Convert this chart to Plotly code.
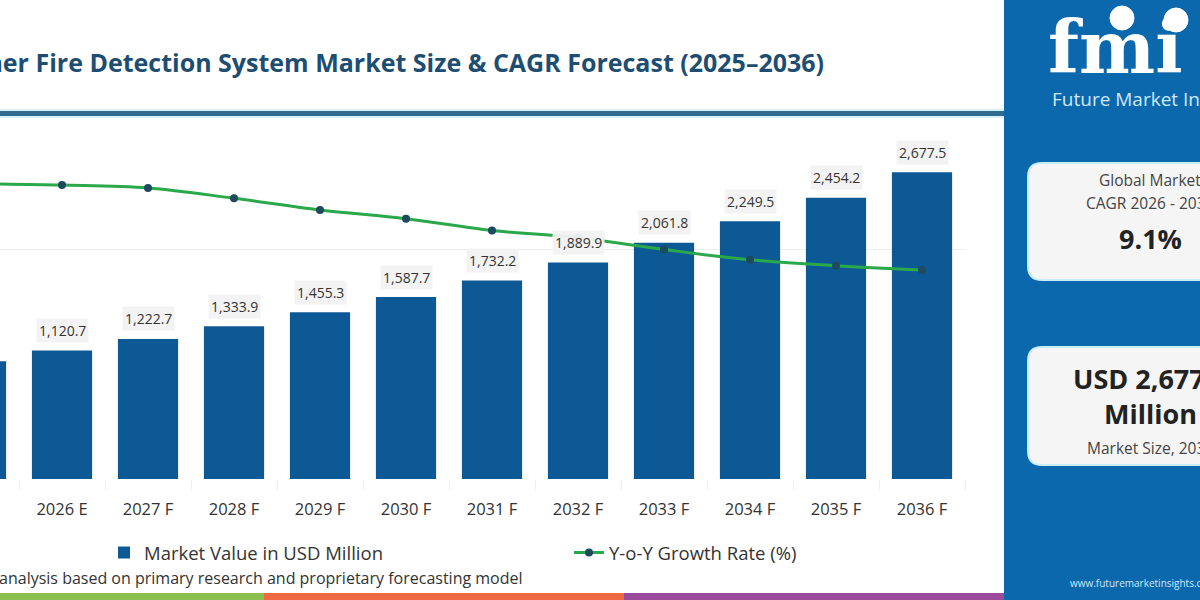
import plotly.graph_objects as go

# ---------------- data ----------------
years = ["2025 A", "2026 E", "2027 F", "2028 F", "2029 F", "2030 F",
         "2031 F", "2032 F", "2033 F", "2034 F", "2035 F", "2036 F"]
market_value = [1027.2, 1120.7, 1222.7, 1333.9, 1455.3, 1587.7,
                1732.2, 1889.9, 2061.8, 2249.5, 2454.2, 2677.5]
yoy_growth = [9.45, 9.44, 9.42, 9.35, 9.27, 9.21,
              9.13, 9.08, 9.00, 8.93, 8.89, 8.86]
cagr_text = "9.1%"
final_value_text = "USD 2,677.5"

title = "Container Fire Detection System Market Size & CAGR Forecast (2025\u20132036)"
source = "Source: FMI analysis based on primary research and proprietary forecasting model"

W, H = 1200, 600
def px(x):
    return x / W
def py(y):
    return 1 - y / H

FONT = "Open Sans"
BAR = "#0d5996"
LINE = "#2aa84a"
NAVY = "#1d4e72"
PANEL = "#0b68ad"

fig = go.Figure()

fig.add_trace(go.Bar(
    x=years, y=market_value, name="Market Value in USD Million",
    marker=dict(color=BAR, line=dict(width=0)), width=0.7,
    hoverinfo="x+y",
))
fig.add_trace(go.Scatter(
    x=years, y=yoy_growth, name="Y-o-Y Growth Rate (%)", yaxis="y2",
    mode="lines+markers", line=dict(color=LINE, width=3, shape="spline"),
    marker=dict(color="#1d4a5f", size=8),
))

annotations = []
for yr, v in zip(years, market_value):
    annotations.append(dict(
        x=yr, y=v, xref="x", yref="y", text=f"{v:,.1f}", showarrow=False,
        yshift=20, font=dict(family=FONT, size=14, color="#333333"),
        bgcolor="rgba(242,242,242,0.95)", borderpad=2,
    ))

# Title
annotations.append(dict(
    x=px(826), y=py(62), xref="paper", yref="paper", xanchor="right", yanchor="middle",
    text=f"<b>{title}</b>", showarrow=False,
    font=dict(family=FONT, size=25, color=NAVY)))
# Source
annotations.append(dict(
    x=px(525), y=py(578), xref="paper", yref="paper", xanchor="right", yanchor="middle",
    text=source, showarrow=False,
    font=dict(family=FONT, size=16, color="#333333")))

# Right panel texts
cx = px(1150)
panel_texts = [
    ("Global Market", 180, 15.5, False, "#444444"),
    ("CAGR 2026 - 2036", 203, 15.5, False, "#444444"),
    (cagr_text, 238, 27, True, "#222222"),
    (final_value_text, 378, 27, True, "#222222"),
    ("Million", 414, 27, True, "#222222"),
    ("Market Size, 2036", 448, 15.5, False, "#444444"),
]
for t, y, s, b, c in panel_texts:
    annotations.append(dict(
        x=cx, y=py(y), xref="paper", yref="paper", xanchor="center", yanchor="middle",
        text=f"<b>{t}</b>" if b else t, showarrow=False,
        font=dict(family=FONT, size=s, color=c)))

# logo
annotations.append(dict(
    x=px(1046), y=py(47), xref="paper", yref="paper", xanchor="left", yanchor="middle",
    text="<b>fmi</b>", showarrow=False,
    font=dict(family="DejaVu Serif", size=72, color="white")))
annotations.append(dict(
    x=px(1050), y=py(99), xref="paper", yref="paper", xanchor="left", yanchor="middle",
    text="Future Market Insights", showarrow=False,
    font=dict(family=FONT, size=19, color="#cfe8fb")))
annotations.append(dict(
    x=px(1068), y=py(583), xref="paper", yref="paper", xanchor="left", yanchor="middle",
    text="www.futuremarketinsights.com", showarrow=False,
    font=dict(family=FONT, size=10, color="#cfe8fb")))

def rounded(x0, y0, x1, y1, r):
    X0, X1 = px(x0), px(x1)
    Y0, Y1 = py(y0), py(y1)
    rx, ry = r / W, r / H
    return (f"M{X0+rx},{Y0} L{X1-rx},{Y0} Q{X1},{Y0} {X1},{Y0-ry} "
            f"L{X1},{Y1+ry} Q{X1},{Y1} {X1-rx},{Y1} L{X0+rx},{Y1} "
            f"Q{X0},{Y1} {X0},{Y1+ry} L{X0},{Y0-ry} Q{X0},{Y0} {X0+rx},{Y0} Z")

shapes = [
    # right panel
    dict(type="rect", xref="paper", yref="paper", x0=px(1004), x1=1.0, y0=0, y1=1,
         fillcolor=PANEL, line=dict(width=0), layer="below"),
    # title rule
    dict(type="rect", xref="paper", yref="paper", x0=0, x1=px(1004), y0=py(118), y1=py(109),
         fillcolor="#d6f1fb", line=dict(width=0), layer="below"),
    dict(type="rect", xref="paper", yref="paper", x0=0, x1=px(1004), y0=py(116), y1=py(111),
         fillcolor="#2e6b8f", line=dict(width=0), layer="below"),
    # bottom stripes
    dict(type="rect", xref="paper", yref="paper", x0=0, x1=px(264), y0=0, y1=py(593),
         fillcolor="#8cc152", line=dict(width=0), layer="below"),
    dict(type="rect", xref="paper", yref="paper", x0=px(264), x1=px(624), y0=0, y1=py(593),
         fillcolor="#ef6a42", line=dict(width=0), layer="below"),
    dict(type="rect", xref="paper", yref="paper", x0=px(624), x1=px(1004), y0=0, y1=py(593),
         fillcolor="#9a4b9b", line=dict(width=0), layer="below"),
    # panel boxes
    dict(type="path", xref="paper", yref="paper", path=rounded(1028, 163, 1275, 280, 14),
         fillcolor="#f5f5f5", line=dict(color="#c9eefa", width=2), layer="below"),
    dict(type="path", xref="paper", yref="paper", path=rounded(1028, 347, 1275, 465, 14),
         fillcolor="#f5f5f5", line=dict(color="#c9eefa", width=2), layer="below"),
    # logo circles
    dict(type="circle", xref="paper", yref="paper", x0=px(1110), x1=px(1134), y0=py(30), y1=py(6),
         fillcolor="white", line=dict(color="white", width=1), layer="below"),
    dict(type="circle", xref="paper", yref="paper", x0=px(1164), x1=px(1188), y0=py(32), y1=py(8),
         fillcolor="white", line=dict(color="white", width=1), layer="below"),
]

fig.update_layout(
    width=W, height=H, margin=dict(l=0, r=0, t=0, b=0),
    paper_bgcolor="white", plot_bgcolor="rgba(0,0,0,0)",
    showlegend=True,
    legend=dict(orientation="h", x=px(104), y=py(553), xanchor="left", yanchor="middle",
                entrywidth=420, entrywidthmode="pixels",
                font=dict(family=FONT, size=18.5, color="#333333"),
                bgcolor="rgba(0,0,0,0)"),
    xaxis=dict(domain=[0, px(965)], range=[0.279, 11.5], type="category",
               showgrid=False, showline=False, zeroline=False,
               ticks="outside", tickson="boundaries", ticklen=10, tickcolor="#eeeeee",
               ticklabelstandoff=18,
               tickfont=dict(family=FONT, size=16.5, color="#333333")),
    yaxis=dict(domain=[py(479), py(135.2)], range=[0, 3000], tickvals=[2000],
               showticklabels=False, showgrid=True, gridcolor="#eeeeee", zeroline=False),
    yaxis2=dict(domain=[py(479), py(135.2)], overlaying="y", range=[7.434, 9.780],
                showticklabels=False, showgrid=False, zeroline=False),
    annotations=annotations, shapes=shapes,
    bargap=0.3,
)

fig.write_html("out.html")
